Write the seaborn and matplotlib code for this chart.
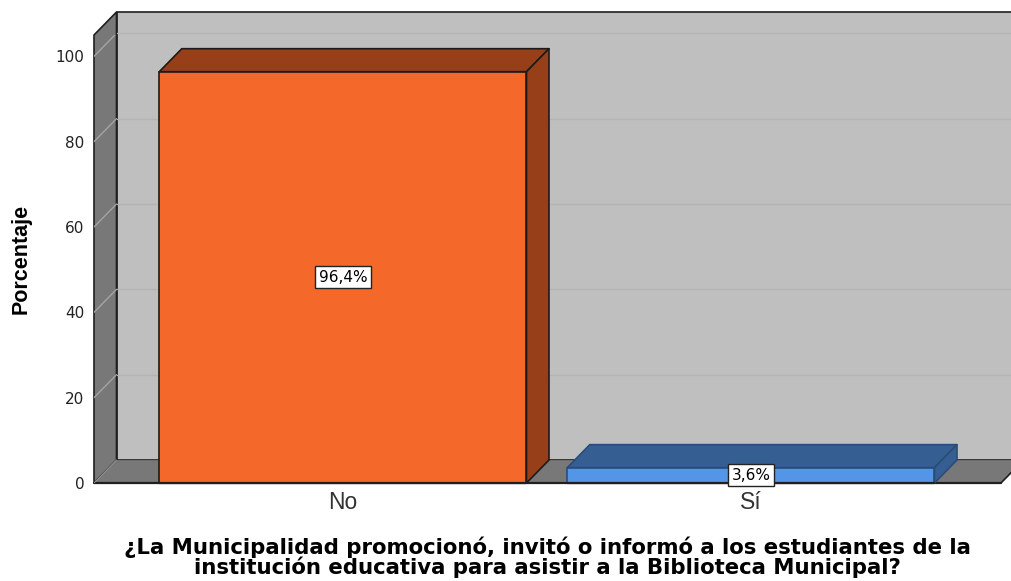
import pandas as pd
import matplotlib
matplotlib.use('Agg')
import matplotlib.pyplot as plt
from matplotlib.patches import Polygon
import seaborn as sns

sns.set_theme(style='white')
plt.rcParams['font.family'] = ['Liberation Sans', 'DejaVu Sans']

categorias = ['No', 'Sí']
porcentajes = [96.4, 3.6]
etiquetas = ['96,4%', '3,6%']
colores = ['#f4682a', '#5395e6']
colores_lado = ['#963f18', '#355f92']
bordes = ['#1f1a18', '#2b4c78']
yticks = [0, 20, 40, 60, 80, 100]

titulo = '¿La Municipalidad promocionó, invitó o informó a los estudiantes de la\ninstitución educativa para asistir a la Biblioteca Municipal?'

W, H = 1011, 581
fig = plt.figure(figsize=(W / 100, H / 100), dpi=100)
ax = fig.add_axes([94 / W, 1 - 483 / H, (1001 - 94) / W, (483 - 35) / H])

df = pd.DataFrame({'cat': categorias, 'pct': porcentajes})
sns.barplot(data=df, x='cat', y='pct', hue='cat', palette=colores, saturation=1, width=0.9,
            legend=False, ax=ax, zorder=5, linewidth=0)
ax.set_xlim(-0.61, 1.613)
ax.set_ylim(0, 105)

# profundidad del efecto 3D, en unidades de datos
dx = 22.5 / 408
dy = 23 / 4.267
x0, x1 = ax.get_xlim()
y0, y1 = ax.get_ylim()


def cara(puntos, color, z, borde='#1f1f1f', lw=1.2):
    ax.add_patch(Polygon(puntos, closed=True, facecolor=color, edgecolor=borde,
                         linewidth=lw, zorder=z, clip_on=False, joinstyle='round'))


# paredes y suelo
cara([(x0 + dx, y0 + dy), (x1 + dx, y0 + dy), (x1 + dx, y1 + dy), (x0 + dx, y1 + dy)], '#bfbfbf', 1)
cara([(x0, y0), (x0 + dx, y0 + dy), (x0 + dx, y1 + dy), (x0, y1)], '#787878', 2)
cara([(x0, y0), (x1, y0), (x1 + dx, y0 + dy), (x0 + dx, y0 + dy)], '#787878', 2, borde='none', lw=0)
ax.plot([x0, x1], [y0, y0], color='#1f1f1f', lw=1.6, zorder=3, clip_on=False)
ax.plot([x1, x1 + dx], [y0, y0 + dy], color='#1f1f1f', lw=1.2, zorder=3, clip_on=False)
ax.plot([x0 + dx, x1 + dx], [y0 + dy, y0 + dy], color='#6a6a6a', lw=0.6, zorder=3, clip_on=False)

for t in yticks[1:]:
    ax.plot([x0 + dx, x1 + dx], [t + dy, t + dy], color='#b4b4b4', lw=1, zorder=3, clip_on=False)
    ax.plot([x0, x0 + dx], [t, t + dy], color='#a4a4a4', lw=1, zorder=3)
ax.plot([x0, x0 + dx], [y0, y0 + dy], color='#9a9a9a', lw=0.7, zorder=3)

# caras superior y lateral de cada barra
for bar, lado, borde, etiqueta in zip(ax.patches[:2], colores_lado, bordes, etiquetas):
    bx, bw, bh = bar.get_x(), bar.get_width(), bar.get_height()
    bar.set_edgecolor(borde)
    bar.set_linewidth(1.2)
    cara([(bx, bh), (bx + dx, bh + dy), (bx + bw + dx, bh + dy), (bx + bw, bh)], lado, 4, borde=borde)
    cara([(bx + bw, 0), (bx + bw + dx, dy), (bx + bw + dx, bh + dy), (bx + bw, bh)], lado, 4, borde=borde)
    ax.plot([bx, bx + bw], [0, 0], color='#1f1f1f', lw=1.6, zorder=6, clip_on=False)
    ax.text(bx + bw / 2, bh / 2, etiqueta, ha='center', va='center', fontsize=11,
            family='DejaVu Sans', color='black', zorder=8,
            bbox=dict(boxstyle='square,pad=0.22', fc='white', ec='#222222', lw=1))

sns.despine(ax=ax, left=True, bottom=True)
ax.set_yticks(yticks)
ax.tick_params(axis='y', labelsize=11, length=0, pad=7, colors='#222222')
ax.tick_params(axis='x', labelsize=16.5, length=0, pad=6, colors='#333333')
for lab in ax.get_yticklabels():
    lab.set_family('DejaVu Sans')
ax.set_xlabel('')
ax.set_ylabel('')

fig.text(547 / W, 1 - 557 / H, titulo, ha='center', va='center', fontsize=15.3,
         family='DejaVu Sans', fontweight='bold', color='black', linespacing=0.9)
fig.text(21 / W, 1 - 259 / H, 'Porcentaje', rotation=90, ha='center', va='center',
         fontsize=15.5, fontweight='bold', color='black')

fig.savefig('out.png', dpi=100)
